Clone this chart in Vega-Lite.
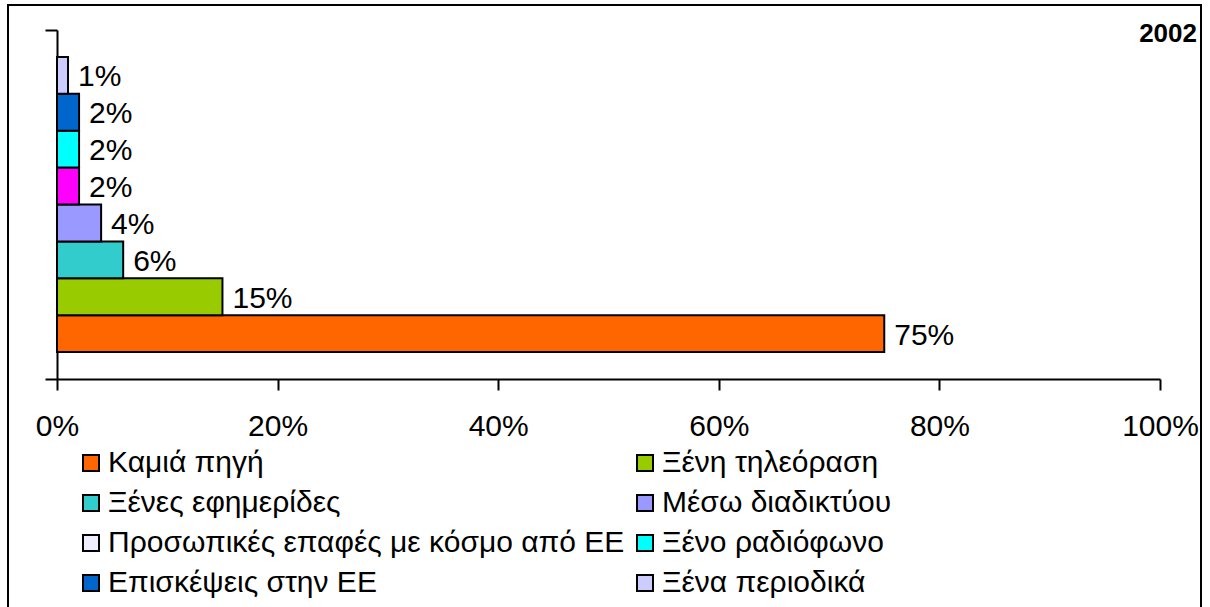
{
  "$schema": "https://vega.github.io/schema/vega-lite/v6.json",
  "autosize": {"type": "none"},
  "width": 1193,
  "height": 606,
  "padding": {"left": 8, "top": 5, "right": 9, "bottom": -4},
  "background": "white",
  "config": {
    "view": {"stroke": "black", "strokeWidth": 2},
    "font": "Liberation Sans"
  },
  "title": {
    "text": "2002",
    "anchor": "end",
    "frame": "group",
    "orient": "top",
    "offset": 0,
    "baseline": "top",
    "dy": 42,
    "dx": -4,
    "fontSize": 26,
    "fontWeight": "bold",
    "color": "black",
    "font": "Liberation Sans"
  },
  "data": {
    "values": [
      {"src": "Καμιά πηγή", "v": 0.75},
      {"src": "Ξένη τηλεόραση", "v": 0.15},
      {"src": "Ξένες εφημερίδες", "v": 0.06},
      {"src": "Μέσω διαδικτύου", "v": 0.04},
      {"src": "Προσωπικές επαφές με κόσμο από ΕΕ", "v": 0.02},
      {"src": "Ξένο ραδιόφωνο", "v": 0.02},
      {"src": "Επισκέψεις στην ΕΕ", "v": 0.02},
      {"src": "Ξένα περιοδικά", "v": 0.01}
    ]
  },
  "layer": [
    {
      "encoding": {
        "y": {
          "field": "src", "type": "nominal",
          "sort": ["Ξένα περιοδικά", "Επισκέψεις στην ΕΕ", "Ξένο ραδιόφωνο", "Προσωπικές επαφές με κόσμο από ΕΕ", "Μέσω διαδικτύου", "Ξένες εφημερίδες", "Ξένη τηλεόραση", "Καμιά πηγή"],
          "scale": {"range": [25, 374], "paddingInner": 0, "paddingOuter": 0.73},
          "axis": null
        },
        "x": {
          "field": "v", "type": "quantitative",
          "scale": {"domain": [0, 1], "range": [49, 1152], "nice": false},
          "axis": {
            "orient": "bottom",
            "offset": -232,
            "values": [0, 0.2, 0.4, 0.6, 0.8, 1],
            "format": ".0%",
            "grid": false,
            "title": null,
            "domainColor": "black",
            "domainWidth": 2,
            "tickColor": "black",
            "tickWidth": 2,
            "tickSize": 11,
            "labelFontSize": 30,
            "labelFont": "Liberation Sans",
            "labelColor": "black",
            "labelPadding": 21,
            "labelFlush": false,
            "labelOverlap": false
          }
        }
      },
      "layer": [
        {
          "mark": {"type": "bar", "stroke": "black", "strokeWidth": 2, "opacity": 1},
          "encoding": {
            "color": {
              "field": "src", "type": "nominal",
              "scale": {
                "domain": ["Καμιά πηγή", "Ξένη τηλεόραση", "Ξένες εφημερίδες", "Μέσω διαδικτύου", "Προσωπικές επαφές με κόσμο από ΕΕ", "Ξένο ραδιόφωνο", "Επισκέψεις στην ΕΕ", "Ξένα περιοδικά"],
                "range": ["#FF6600", "#99CC00", "#33CCCC", "#9999FF", "#FF00FF", "#00FFFF", "#0066CC", "#CCCCFF"]
              },
              "legend": null
            }
          }
        },
        {
          "mark": {"type": "text", "align": "left", "baseline": "middle", "dx": 10, "dy": 2, "fontSize": 30, "font": "Liberation Sans", "color": "black"},
          "encoding": {
            "text": {"field": "v", "type": "quantitative", "format": ".0%"}
          }
        }
      ]
    },
    {
      "mark": {"type": "square", "size": 0, "filled": true},
      "encoding": {
        "color": {
          "field": "src", "type": "nominal",
          "scale": {
            "domain": ["Καμιά πηγή", "Ξένη τηλεόραση", "Ξένες εφημερίδες", "Μέσω διαδικτύου", "Προσωπικές επαφές με κόσμο από ΕΕ", "Ξένο ραδιόφωνο", "Επισκέψεις στην ΕΕ", "Ξένα περιοδικά"],
            "range": ["#FF6600", "#99CC00", "#33CCCC", "#9999FF", "#EEEEFF", "#00FFFF", "#0066CC", "#CCCCFF"]
          },
          "legend": {
            "orient": "none",
            "direction": "horizontal",
            "legendX": 68,
            "legendY": 443,
            "columns": 2,
            "columnPadding": 5,
            "rowPadding": 10,
            "title": null,
            "symbolType": "square",
            "symbolSize": 256,
            "symbolStrokeColor": "black",
            "symbolStrokeWidth": 2,
            "symbolOpacity": 1,
            "labelFontSize": 30,
            "labelFont": "Liberation Sans",
            "labelColor": "black",
            "labelLimit": 0,
            "labelOffset": 2
          }
        }
      }
    },
    {
      "data": {"values": [{"e": 0}, {"e": 1}]},
      "mark": {"type": "point", "opacity": 0},
      "encoding": {
        "y": {
          "field": "e", "type": "quantitative",
          "scale": {"domain": [0, 1], "range": [374, 25], "nice": false, "zero": false},
          "axis": {
            "orient": "left",
            "offset": -49,
            "values": [0, 1],
            "labels": false,
            "grid": false,
            "title": null,
            "domainColor": "black",
            "domainWidth": 2,
            "tickColor": "black",
            "tickWidth": 2,
            "tickSize": 12
          }
        }
      }
    }
  ],
  "resolve": {"scale": {"y": "independent", "color": "independent"}, "legend": {"color": "independent"}}
}
